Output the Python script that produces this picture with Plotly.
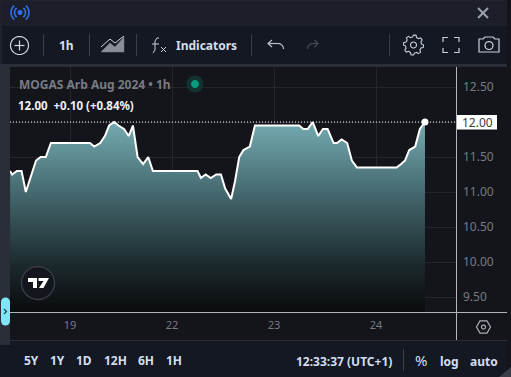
import math
import plotly.graph_objects as go

W, H = 511, 377

# Hours since the "19" tick, on the chart's compressed time scale
hours = [-14.1, -13.6, -12.5, -11.4, -10.4, -9.0, -8.0, -6.9, -5.7, -4.5, 4.7, 5.7, 7.1, 8.2, 9.2, 10.4,
         11.4, 12.7, 13.8, 14.8, 15.9, 17.2, 18.4, 19.5, 30.0, 30.8, 31.9, 33.1, 34.4, 35.5, 36.5, 37.9,
         38.8, 39.8, 40.8, 42.3, 43.5, 53.9, 54.9, 55.9, 57.1, 58.4, 59.5, 60.6, 62.0, 62.8, 63.9, 65.2,
         66.3, 67.5, 76.8, 77.9, 78.8, 79.8, 81.2, 82.3, 83.5]
prices = [11.30, 11.25, 11.30, 11.30, 11.00, 11.25, 11.45, 11.50, 11.50, 11.70, 11.70, 11.65, 11.70, 11.80,
          11.95, 12.00, 11.95, 11.90, 11.80, 11.95, 11.50, 11.40, 11.50, 11.30, 11.30, 11.20, 11.25, 11.20,
          11.25, 11.25, 11.05, 10.90, 11.15, 11.50, 11.60, 11.65, 11.95, 11.95, 11.90, 11.90, 12.00, 11.80,
          11.90, 11.90, 11.70, 11.70, 11.75, 11.70, 11.45, 11.35, 11.35, 11.40, 11.45, 11.60, 11.65, 11.90,
          12.00]
x_tick_vals = [0, 24, 48, 72]
x_tick_text = ["19", "22", "23", "24"]
y_tick_vals = [9.5, 10.0, 10.5, 11.0, 11.5, 12.0, 12.5]
y_tick_text = ["9.50", "10.00", "10.50", "11.00", "11.50", "", "12.50"]
last_price = 12.00
ranges = ["5Y", "1Y", "1D", "12H", "6H", "1H"]
range_left = [24, 50, 76, 104, 138, 166]

PLOT_L, PLOT_R, PLOT_T, PLOT_B = 10, 456, 67, 312
UI = "#d3def0"
GREY = "#787b82"


def px(x):
    return x / W


def py(y):
    return 1 - y / H


shapes = []


def rect(x0, y0, x1, y1, fill):
    shapes.append(dict(type="rect", xref="paper", yref="paper", x0=px(x0), x1=px(x1), y0=py(y0), y1=py(y1),
                       fillcolor=fill, line=dict(width=0), layer="below"))


def line(pts, color="#c8d0dc", width=1.2, closed=False, fill=None, layer="above"):
    d = "M" + " L".join(f"{px(a):.5f},{py(b):.5f}" for a, b in pts) + (" Z" if closed else "")
    s = dict(type="path", xref="paper", yref="paper", path=d, layer=layer, line=dict(color=color, width=width))
    if width == 0:
        s["line"] = dict(width=0)
    if fill:
        s["fillcolor"] = fill
    shapes.append(s)


def arc(cx, cy, r, a0=0, a1=360, n=36):
    return [(cx + r * math.cos(math.radians(a0 + (a1 - a0) * i / n)),
             cy + r * math.sin(math.radians(a0 + (a1 - a0) * i / n))) for i in range(n + 1)]


def circle(cx, cy, r, color="#c8d0dc", width=1.2, fill=None):
    line(arc(cx, cy, r), color, width, True, fill)


notes = []


def text(x, y, s, color=UI, size=12, anchor="left", bold=True, bg=None, family="Noto Sans"):
    a = dict(xref="paper", yref="paper", x=px(x), y=py(y), text=f"<b>{s}</b>" if bold else s, showarrow=False,
             xanchor=anchor, yanchor="middle", font=dict(color=color, size=size, family=family), borderpad=0, borderwidth=0)
    if bg:
        a["bgcolor"] = bg
    notes.append(a)


# window panels
rect(0, 0, W, H, "#20232e")
rect(2, 1, 507, 26, "#1c1f29")
rect(2, 26, 507, 64, "#141822")
rect(0, 64, 507, 67, "#2a2e39")
rect(0, 67, 10, 345, "#2a2e39")
rect(10, 67, 507, 340, "#14151a")
rect(10, 340, 507, 341, "#2a2e39")
rect(10, 341, 507, 377, "#141822")
rect(0, 345, 10, 377, "#141822")
rect(507, 0, W, H, "#14151a")

# top bar icons
line(arc(20, 12.5, 1.5), "#2f6fe8", 2, True, "#2f6fe8")
line(arc(20, 12.5, 5.5, 125, 235, 10), "#2f6fe8", 1.6)
line(arc(20, 12.5, 5.5, -55, 55, 10), "#2f6fe8", 1.6)
line(arc(20, 12.5, 9, 130, 230, 10), "#2f6fe8", 1.6)
line(arc(20, 12.5, 9, -50, 50, 10), "#2f6fe8", 1.6)
line([(478, 8), (488, 18)], "#9ca2ae", 2)
line([(488, 8), (478, 18)], "#9ca2ae", 2)

# toolbar
for sx in [43.5, 89.5, 136.5, 389.5, 251.5]:
    line([(sx, 34), (sx, 56)], "#3a3f4c", 1)
circle(19.5, 45.5, 9, "#d0d6e0", 1.2)
line([(14.5, 45.5), (24.5, 45.5)], "#d0d6e0", 1.2)
line([(19.5, 40.5), (19.5, 50.5)], "#d0d6e0", 1.2)
text(66, 46, "1h", anchor="center", size=12)
line([(101, 52), (110, 43), (115, 47), (124, 37), (124, 52)], "#7f838c", 0.5, True, "#8a8e97")
line([(101, 47), (110, 39), (115, 43), (124, 36)], "#d0d6e0", 1)
line([(159, 38), (157, 38), (155, 41), (155, 50), (153, 53)], "#c8d0dc", 1)
line([(152, 44), (159, 44)], "#c8d0dc", 1)
line([(161, 47), (166, 52)], "#c8d0dc", 1)
line([(166, 47), (161, 52)], "#c8d0dc", 1)
text(176, 46, "Indicators", size=12)
line(arc(278, 49, 5.5, -90, 0, 8), "#b8bec9", 1.2)
line([(268, 43.5), (278, 43.5)], "#b8bec9", 1.2)
line([(272, 40), (268, 43.5), (272, 47)], "#b8bec9", 1.2)
line(arc(313, 49, 5.5, 180, 270, 8), "#474b55", 1.2)
line([(313, 43.5), (318, 43.5)], "#474b55", 1.2)
line([(314.5, 40), (318, 43.5), (314.5, 47)], "#474b55", 1.2)
gear = []
for i in range(48):
    r = 10 if i % 6 in (0, 1, 2) else 8
    gear.append((413.5 + r * math.cos(math.radians(i * 7.5)), 45 + r * math.sin(math.radians(i * 7.5))))
line(gear, "#c8d0dc", 1.1, True)
circle(413.5, 45, 3, "#c8d0dc", 1.1)
for (a, b, c) in [((443, 42), (443, 37.5), (448, 37.5)), ((454, 37.5), (459, 37.5), (459, 42)),
                  ((459, 48), (459, 52.5), (454, 52.5)), ((448, 52.5), (443, 52.5), (443, 48))]:
    line([a, b, c], "#c8d0dc", 1.2)
line([(479, 39), (483, 39), (485, 37), (493, 37), (495, 39), (499, 39), (499, 52), (479, 52)], "#c8d0dc", 1.2, True)
circle(489, 45.5, 4, "#c8d0dc", 1.2)

# bottom right axis cell and separators
line([(456.5, PLOT_T), (456.5, 340)], "#b5b7bb", 1)
line([(PLOT_L, 312.5), (507, 312.5)], "#b5b7bb", 1)
line(arc(483.5, 327, 7, 0, 360, 6), "#a9adb5", 1.2, True)
circle(483.5, 327, 2, "#a9adb5", 1.2)
line([(403.5, 349), (403.5, 371)], "#3a3f4c", 1)
line([(511, 367), (511, 377), (499, 377)], "#3a3d47", 0, True, "#3a3d47")

# logo
circle(38, 283, 16.5, "#3b3e49", 1.3, "#14161d")
line([(28, 278), (37, 278), (37, 288), (33, 288), (33, 282), (28, 282)], "#ffffff", 0, True, "#ffffff")
line([(38.5, 278), (49, 278), (43.5, 288), (39, 288), (43.5, 281), (38.5, 281)], "#ffffff", 0, True, "#ffffff")

# side handle
line(arc(5.5, 302, 4.5, 180, 360, 8) + arc(5.5, 321, 4.5, 0, 180, 8), "#7fe6f5", 0, True, "#7fe6f5")
line([(4, 309), (6.5, 311.5), (4, 314)], "#1c3c48", 1.1)

# status dot
circle(195, 84, 8.5, "#12322f", 0, "#12322f")
circle(195, 84, 4, "#089981", 0, "#089981")

# last-price dotted line
shapes.append(dict(type="line", xref="x", yref="y", x0=-14.12, x1=90.8, y0=last_price, y1=last_price,
                   line=dict(color="#ffffff", width=1, dash="1px,2px"), layer="above"))

# texts
text(19, 85, "MOGAS Arb Aug 2024 • 1h", GREY, 12)
text(18, 105.5, "12.00&nbsp;&nbsp;+0.10 (+0.84%)", "#f0f0f0", 11.5)
for s, xl in zip(ranges, range_left):
    text(xl, 360.5, s, UI, 12)
text(296, 361, "12:33:37 (UTC+1)", UI, 12)
text(421, 360, "%", UI, 15, "center", bold=False)
text(449, 361.5, "log", UI, 12, "center")
text(484, 361.5, "auto", UI, 12, "center")
# price label box
rect(457, 115, 497, 129.5, "#ffffff")
shapes[-1]["layer"] = "above"
text(477, 122.3, "12.00", "#3a3d45", 12, "center", bold=False)

fig = go.Figure()
fig.add_trace(go.Scatter(
    x=hours, y=prices, mode="lines", fill="tozeroy",
    line=dict(color="#ffffff", width=2),
    fillgradient=dict(type="vertical", start=12.0, stop=9.286,
                      colorscale=[[0, "#74abb1"], [0.4, "#41646a"], [0.75, "#1c2a2d"], [1, "#0a0b0d"]]),
    hoverinfo="skip", showlegend=False))
fig.add_trace(go.Scatter(x=hours[-1:], y=prices[-1:], mode="markers",
                         marker=dict(color="#ffffff", size=7), hoverinfo="skip", showlegend=False))

fig.update_layout(
    width=W, height=H, margin=dict(l=0, r=0, t=0, b=0), paper_bgcolor="#14151a", plot_bgcolor="rgba(0,0,0,0)",
    shapes=shapes, annotations=notes, showlegend=False,
    xaxis=dict(domain=[px(PLOT_L), px(PLOT_R)], range=[-14.12, 90.8], tickvals=x_tick_vals, ticktext=x_tick_text,
               showgrid=True, gridcolor="#24262c", gridwidth=1, zeroline=False, ticks="", anchor="y",
               ticklabelstandoff=5,
               tickfont=dict(color=GREY, size=11, family="Noto Sans"), showline=False),
    yaxis=dict(domain=[py(PLOT_B), py(PLOT_T)], range=[9.286, 12.786], side="right", tickvals=y_tick_vals,
               ticktext=y_tick_text, showgrid=True, gridcolor="#24262c", gridwidth=1, zeroline=False, ticks="",
               ticklabelstandoff=6,
               tickfont=dict(color=GREY, size=12, family="Noto Sans"), showline=False, anchor="x"),
)

fig.write_html("out.html", config=dict(displayModeBar=False),
               post_script="document.body.style.margin='0';document.documentElement.style.overflow='hidden';")
